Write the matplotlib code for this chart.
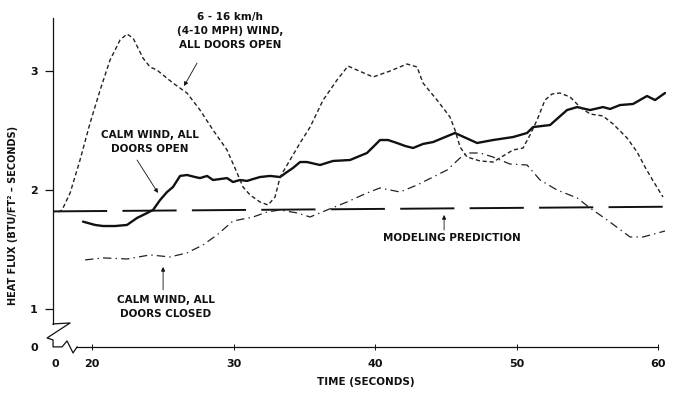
import numpy as np
import matplotlib
matplotlib.use('Agg')
import matplotlib.pyplot as plt

plt.rcParams['font.family'] = ['Liberation Sans Narrow', 'DejaVu Sans']
plt.rcParams['font.weight'] = 'bold'
plt.rcParams['axes.labelweight'] = 'bold'
plt.rcParams['lines.scale_dashes'] = False

# origin positions used for the broken axes
x0_break = 17.385
y0_break = 0.68

# 6-16 km/h wind, all doors open
wind_t = [17.60, 17.88, 18.45, 19.15, 19.86, 20.57, 21.27, 21.98, 22.47, 22.90,
          23.60, 24.10, 24.59, 25.72, 26.71, 27.63, 28.55, 29.54, 30.25, 30.67,
          31.17, 31.87, 32.44, 32.93, 33.29, 33.99, 34.70, 35.41, 36.33, 37.31,
          38.09, 38.73, 39.86, 41.06, 42.26, 42.97, 43.39, 44.38, 45.30, 45.65,
          46.01, 46.50, 47.42, 48.34, 49.05, 49.75, 50.46, 50.95, 51.45, 52.01,
          52.51, 53.07, 53.78, 54.49, 55.19, 56.11, 56.82, 57.81, 58.52, 59.08,
          59.65, 60.35]
wind_q = [1.815, 1.832, 1.975, 2.252, 2.563, 2.840, 3.092, 3.261, 3.311, 3.277,
          3.109, 3.034, 3.008, 2.899, 2.815, 2.672, 2.504, 2.336, 2.143, 2.025,
          1.958, 1.899, 1.874, 1.941, 2.109, 2.252, 2.395, 2.529, 2.756, 2.924,
          3.042, 3.008, 2.950, 3.000, 3.059, 3.034, 2.899, 2.756, 2.613, 2.504,
          2.361, 2.277, 2.244, 2.235, 2.286, 2.336, 2.353, 2.462, 2.588, 2.756,
          2.807, 2.815, 2.782, 2.697, 2.639, 2.622, 2.555, 2.437, 2.319, 2.193,
          2.076, 1.941]

# calm wind, all doors open
open_t = [19.36, 20.21, 20.78, 21.63, 22.47, 23.18, 23.75, 24.31, 24.81, 25.30,
          25.72, 26.22, 26.71, 27.28, 27.63, 28.13, 28.55, 29.05, 29.54, 29.96,
          30.46, 30.95, 31.38, 31.87, 32.58, 33.29, 33.78, 34.20, 34.70, 35.19,
          36.11, 37.03, 38.23, 39.43, 40.00, 40.35, 40.92, 41.55, 42.12, 42.69,
          43.39, 44.10, 44.95, 45.65, 46.43, 47.21, 48.34, 49.75, 50.74, 51.17,
          51.80, 52.37, 52.93, 53.57, 54.28, 55.19, 56.11, 56.61, 57.31, 58.23,
          59.22, 59.79, 60.49]
open_q = [1.734, 1.706, 1.697, 1.697, 1.706, 1.765, 1.798, 1.832, 1.916, 1.983,
          2.025, 2.118, 2.126, 2.109, 2.100, 2.118, 2.084, 2.092, 2.100, 2.067,
          2.084, 2.076, 2.092, 2.109, 2.118, 2.109, 2.151, 2.185, 2.235, 2.235,
          2.210, 2.244, 2.252, 2.311, 2.378, 2.420, 2.420, 2.395, 2.370, 2.353,
          2.387, 2.403, 2.445, 2.479, 2.437, 2.395, 2.420, 2.445, 2.479, 2.529,
          2.538, 2.546, 2.605, 2.672, 2.697, 2.672, 2.697, 2.681, 2.714, 2.723,
          2.790, 2.756, 2.815]

# calm wind, all doors closed
closed_t = [19.51, 20.78, 22.47, 24.10, 25.51, 26.71, 27.84, 28.83, 29.96, 31.38,
            32.37, 33.29, 34.49, 35.41, 36.61, 38.02, 39.43, 40.35, 41.77, 42.97,
            44.10, 45.09, 46.01, 46.50, 47.42, 48.34, 49.54, 50.74, 51.66, 52.86,
            54.28, 55.19, 56.40, 58.02, 58.94, 60.49]
closed_q = [1.412, 1.429, 1.420, 1.454, 1.437, 1.471, 1.538, 1.622, 1.739, 1.773,
            1.815, 1.832, 1.807, 1.773, 1.832, 1.899, 1.975, 2.017, 1.983, 2.042,
            2.109, 2.168, 2.269, 2.311, 2.311, 2.277, 2.218, 2.210, 2.084, 2.000,
            1.933, 1.849, 1.748, 1.605, 1.605, 1.655]

# modeling prediction
model_t = [17.24, 61.5]
model_q = [1.82, 1.86]

xticks = [x0_break, 20, 30, 40, 50, 60]
xtick_labels = ['0', '20', '30', '40', '50', '60']
yticks = [y0_break, 1, 2, 3]
ytick_labels = ['0', '1', '2', '3']

ink = '#111111'

fig = plt.figure(figsize=(6.8, 3.94), dpi=100)
ax = fig.add_axes([53 / 680, 47 / 394, 625 / 680, 329.5 / 394])
ax.set_xlim(17.24, 61.41)
ax.set_ylim(y0_break, 3.45)

ax.plot(model_t, model_q, color=ink, lw=1.4, linestyle=(0, (39, 11)))
ax.plot(open_t, open_q, color=ink, lw=1.7, solid_capstyle='round')
ax.plot(wind_t, wind_q, color='#222222', lw=1.0, linestyle=(0, (3, 2)))
ax.plot(closed_t, closed_q, color='#222222', lw=0.9, linestyle=(0, (6, 3, 1, 3)))

# axes with break marks at the origin
for side in ['top', 'right']:
    ax.spines[side].set_visible(False)
ax.spines['left'].set_bounds(0.874, 3.45)
ax.spines['bottom'].set_bounds(18.94, 60)
for side in ['left', 'bottom']:
    ax.spines[side].set_linewidth(0.9)
    ax.spines[side].set_color(ink)
brk_x = [17.244, 18.445, 16.82, 17.244, 17.244, 17.88, 18.233, 18.657, 18.94]
brk_y = [0.874, 0.882, 0.756, 0.739, 0.681, 0.681, 0.731, 0.630, 0.681]
ax.plot(brk_x, brk_y, color=ink, lw=0.9, clip_on=False)

ax.set_xticks(xticks)
ax.set_xticklabels(xtick_labels)
ax.set_yticks(yticks)
ax.set_yticklabels(ytick_labels)
ax.tick_params(axis='x', direction='inout', length=5, width=0.7, pad=6,
               labelsize=8, colors=ink)
ax.tick_params(axis='y', direction='out', length=6, width=0.9, pad=5,
               labelsize=8, colors=ink)
ax.xaxis.get_major_ticks()[0].tick1line.set_visible(False)
ax.yaxis.get_major_ticks()[0].tick1line.set_visible(False)

ax.set_xlabel('TIME (SECONDS)', fontsize=7.5, labelpad=6, color=ink)
ax.set_ylabel('HEAT FLUX (BTU/FT² – SECONDS)', fontsize=7, color=ink)
ax.yaxis.set_label_coords(-0.056, 0.40)

arrow = dict(arrowstyle='-|>', color=ink, lw=0.6, mutation_scale=6,
             shrinkA=0, shrinkB=0)
txt = dict(fontsize=7.5, ha='center', va='center', color=ink, linespacing=1.5)

ax.text(29.75, 3.336, '6 - 16 km/h\n(4-10 MPH) WIND,\nALL DOORS OPEN', **txt)
ax.annotate('', xy=(26.5, 2.874), xytext=(27.42, 3.067), arrowprops=arrow)

ax.text(24.10, 2.403, 'CALM WIND, ALL\nDOORS OPEN', **txt)
ax.annotate('', xy=(24.66, 1.975), xytext=(23.18, 2.252), arrowprops=arrow)

ax.text(45.44, 1.597, 'MODELING PREDICTION', **txt)
ax.annotate('', xy=(44.88, 1.79), xytext=(44.88, 1.664), arrowprops=arrow)

ax.text(25.23, 1.017, 'CALM WIND, ALL\nDOORS CLOSED', **txt)
ax.annotate('', xy=(25.02, 1.353), xytext=(25.02, 1.16), arrowprops=arrow)

fig.savefig('out.png', dpi=100)
